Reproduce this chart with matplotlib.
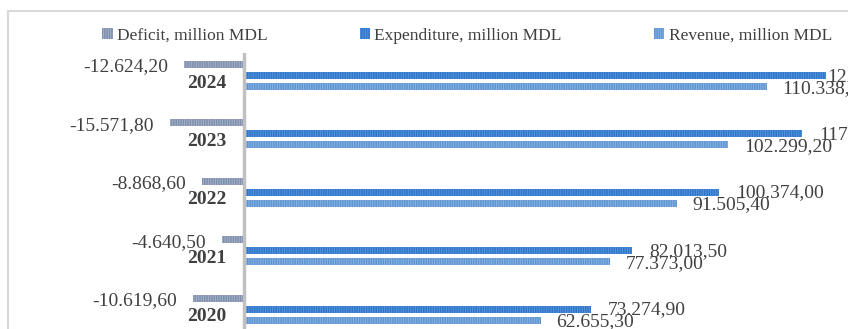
"""
Budget deficit, expenditure and revenue by year (horizontal bars)
"""

import matplotlib
matplotlib.use("Agg")
import matplotlib.pyplot as plt
from matplotlib.patches import Rectangle

# Data

YEARS: list[str] = ["2024", "2023", "2022", "2021", "2020"]
DEFICIT: list[float] = [-12624.20, -15571.80, -8868.60, -4640.50, -10619.60]
EXPENDITURE: list[float] = [122962.40, 117871.00, 100374.00, 82013.50, 73274.90]
REVENUE: list[float] = [110338.20, 102299.20, 91505.40, 77373.00, 62655.30]

LABELS: list[str] = ["Deficit, million MDL", "Expenditure, million MDL",
                     "Revenue, million MDL"]

# Styles

W: int = 848
H: int = 329
TEXT_COLOR: str = "#404040"
COLORS = [("#7f90ae", "#a9b5cb"), ("#2f76cc", "#5c97dc"), ("#5f96d2", "#8fb6e3")]

# px per unit and zero position
ESCALA: float = 0.004739
X0: float = 243.7
PASO: float = 58.4  # px between groups


def formato(valor: float) -> str:
    """Number with dot for thousands and comma for decimals"""
    texto = f"{abs(valor):,.2f}".replace(",", "X").replace(".", ",").replace("X", ".")
    return ("-" if valor < 0 else "") + texto


def muestra_grafica():
    plt.rcParams["font.family"] = ["Liberation Serif", "DejaVu Serif"]
    plt.rcParams["hatch.linewidth"] = 0.6

    fig = plt.figure(figsize=(W / 100, H / 100), dpi=100)
    top_px = 53
    ax = fig.add_axes([0, 0, 1, (H - top_px) / H])

    ax.set_xlim(-X0 / ESCALA, (W - X0) / ESCALA)
    y_top = -(75.5 - top_px) / PASO
    ax.set_ylim(y_top + (H - top_px) / PASO, y_top)
    ax.axis("off")

    alto = 7 / PASO
    desp = 11 / PASO
    pos = list(range(len(YEARS)))

    series = [DEFICIT, EXPENDITURE, REVENUE]
    offsets = [-desp, 0, desp]
    for serie, off, (cara, raya), etiqueta in zip(series, offsets, COLORS, LABELS):
        ax.barh([p + off for p in pos], serie, height=alto, color=cara,
                edgecolor=raya, linewidth=0, hatch="|" * 7, label=etiqueta)

    # axis line at zero
    ax.axvline(0, color="#c0c0c0", lw=2.5, zorder=5)

    # labels
    for i, anio in enumerate(YEARS):
        ax.annotate(formato(DEFICIT[i]), xy=(DEFICIT[i], i - desp),
                    xytext=(-11.5, -1.8), textcoords="offset points",
                    ha="right", va="center", fontsize=14, color=TEXT_COLOR)
        # the 2024 label sits right at the end of its bar
        dx = 0.8 if i == 0 else 12
        ax.annotate(formato(EXPENDITURE[i]), xy=(EXPENDITURE[i], i),
                    xytext=(dx, -0.5), textcoords="offset points",
                    ha="left", va="center", fontsize=14, color=TEXT_COLOR,
                    annotation_clip=False)
        ax.annotate(formato(REVENUE[i]), xy=(REVENUE[i], i + desp),
                    xytext=(11, -1.2), textcoords="offset points",
                    ha="left", va="center", fontsize=14, color=TEXT_COLOR,
                    annotation_clip=False)
        ax.annotate(anio, xy=(0, i), xytext=(-12.7, -5.5),
                    textcoords="offset points", ha="right", va="center",
                    fontsize=14, fontweight="bold", color=TEXT_COLOR)

    # chart frame
    fig.patches.append(Rectangle((8 / W, -0.2), 1.5, 1.2 - 11 / H,
                                 transform=fig.transFigure, fill=False,
                                 edgecolor="#d9d9d9", lw=1.5))

    fig.legend(loc="center", bbox_to_anchor=(467 / W, 1 - 36 / H), ncol=3,
               frameon=False, fontsize=12.5, handlelength=0.6,
               handleheight=0.6, handletextpad=0.25, columnspacing=5.3,
               labelcolor=TEXT_COLOR)

    fig.savefig("out.png", dpi=100)


def main():
    muestra_grafica()


main()
